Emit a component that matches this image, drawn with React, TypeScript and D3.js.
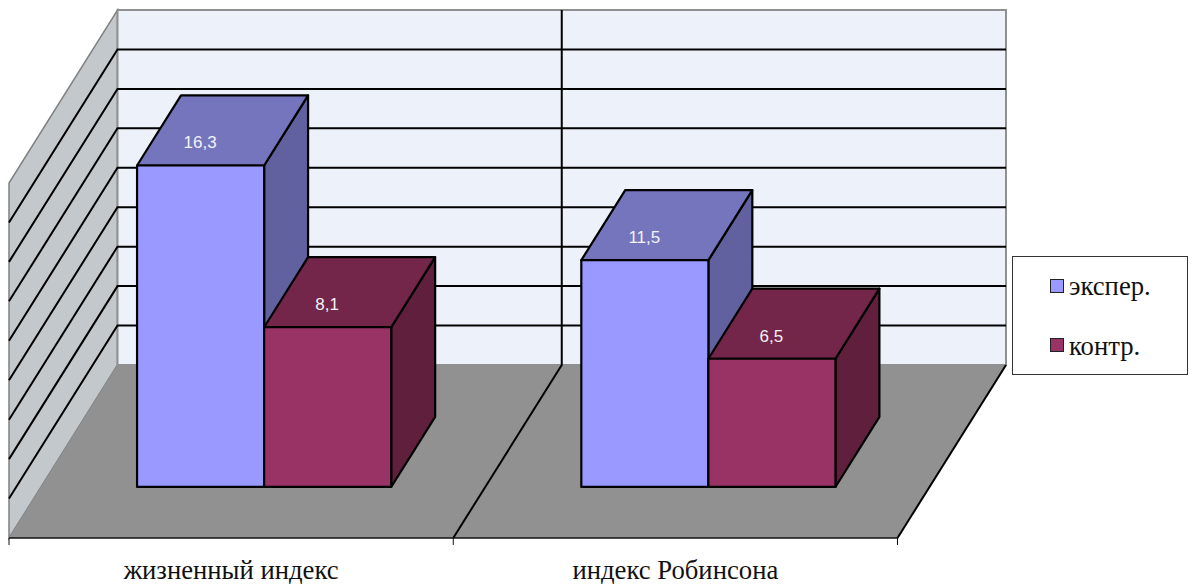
import React from "react";
import * as d3 from "d3";

const categories = ["жизненный индекс", "индекс Робинсона"];
const seriesNames = ["экспер.", "контр."];
const experValues = [16.3, 11.5];
const controlValues = [8.1, 6.5];
const valueTicks = [0, 2, 4, 6, 8, 10, 12, 14, 16, 18];

const frontColors = ["#9999ff", "#993366"];
const topColors = ["#7575bd", "#732649"];
const sideColors = ["#62619f", "#60203d"];

const W = 1195;
const H = 584;
const floorY = 538;
const depthX = 108.5;
const depthY = 173;
const barNear = 0.295;
const barFar = 0.7;

const xGroup = d3.scaleBand<string>().domain(categories).range([9, 897.5]);
const xBar = d3
  .scaleBand<string>()
  .domain(seriesNames)
  .range([1, xGroup.bandwidth() + 1])
  .paddingInner(0)
  .paddingOuter(0.748);
const yHeight = d3.scaleLinear().domain([0, 18]).range([0, 355]);

// Oblique projection: x along the front, v up the value axis, z into the depth.
const project = (x: number, v: number, z: number): [number, number] => [
  x + z * depthX,
  floorY - z * depthY - yHeight(v),
];
const poly = (pts: [number, number][]) => pts.map((p) => p.join(",")).join(" ");

function Bar({ cat, s, value }: { cat: string; s: number; value: number }) {
  const x0 = xGroup(cat)! + xBar(seriesNames[s])!;
  const x1 = x0 + xBar.bandwidth();
  const stroke = { stroke: "#000", strokeWidth: 2.2, strokeLinejoin: "round" as const };
  const [lx, ly] = project((x0 + x1) / 2, value, barNear);
  return (
    <g>
      <polygon
        points={poly([project(x1, 0, barNear), project(x1, 0, barFar), project(x1, value, barFar), project(x1, value, barNear)])}
        fill={sideColors[s]}
        {...stroke}
      />
      <polygon
        points={poly([project(x0, value, barNear), project(x1, value, barNear), project(x1, value, barFar), project(x0, value, barFar)])}
        fill={topColors[s]}
        {...stroke}
      />
      <polygon
        points={poly([project(x0, 0, barNear), project(x1, 0, barNear), project(x1, value, barNear), project(x0, value, barNear)])}
        fill={frontColors[s]}
        {...stroke}
      />
      <text
        x={lx - 0.5}
        y={ly - 17}
        textAnchor="middle"
        fontFamily="'Liberation Sans', Arial, sans-serif"
        fontSize={17}
        fill="#f2f2f8"
      >
        {String(value).replace(".", ",")}
      </text>
    </g>
  );
}

export default function App() {
  const xLeft = xGroup.range()[0];
  const xRight = xGroup.range()[1];
  const boundaries = [xLeft, xLeft + xGroup.step(), xRight];
  const vMax = yHeight.domain()[1];
  return (
    <svg
      width={W}
      height={H}
      viewBox={`0 0 ${W} ${H}`}
      style={{ position: "fixed", left: 0, top: 0, background: "#fff" }}
    >
      {/* left wall */}
      <polygon
        points={poly([project(xLeft, 0, 0), project(xLeft, vMax, 0), project(xLeft, vMax, 1), project(xLeft, 0, 1)])}
        fill="#c3c8cc"
        stroke="#808080"
        strokeWidth={1.5}
      />
      {/* back wall */}
      <polygon
        points={poly([project(xLeft, 0, 1), project(xLeft, vMax, 1), project(xRight, vMax, 1), project(xRight, 0, 1)])}
        fill="#edf2fa"
        stroke="#909090"
        strokeWidth={2}
      />
      {/* floor */}
      <polygon
        points={poly([project(xLeft, 0, 0), project(xRight, 0, 0), project(xRight, 0, 1), project(xLeft, 0, 1)])}
        fill="#919191"
      />
      {/* value gridlines on both walls */}
      {valueTicks.slice(1, -1).map((t) => (
        <g key={t} fill="none" stroke="#000" strokeWidth={2}>
          <polyline points={poly([project(xLeft, t, 0), project(xLeft, t, 1), project(xRight, t, 1)])} />
        </g>
      ))}
      {/* category divider across floor and back wall */}
      <polyline
        points={poly([project(boundaries[1], 0, 0), project(boundaries[1], 0, 1), project(boundaries[1], vMax, 1)])}
        fill="none"
        stroke="#000"
        strokeWidth={2}
      />
      <line
        x1={project(xRight, 0, 0)[0]}
        y1={floorY}
        x2={project(xRight, 0, 1)[0]}
        y2={floorY - depthY}
        stroke="#000"
        strokeWidth={2}
      />
      {/* front axis and ticks */}
      <line x1={xLeft} x2={xRight} y1={floorY} y2={floorY} stroke="#111" strokeWidth={1.6} />
      {boundaries.map((b) => (
        <line key={b} x1={b} x2={b} y1={floorY} y2={floorY + 7} stroke="#111" strokeWidth={1} />
      ))}
      {categories.map((c, i) => (
        <g key={c}>
          <Bar cat={c} s={0} value={experValues[i]} />
          <Bar cat={c} s={1} value={controlValues[i]} />
          <text
            x={xGroup(c)! + xGroup.bandwidth() / 2}
            y={579}
            textAnchor="middle"
            fontFamily="'Liberation Serif', 'Times New Roman', serif"
            fontSize={26.7}
            fill="#111"
          >
            {c}
          </text>
        </g>
      ))}
      {/* legend */}
      <rect x={1012.5} y={256.5} width={175} height={118} fill="#fff" stroke="#333" strokeWidth={1} />
      {seriesNames.map((n, i) => (
        <g key={n}>
          <rect
            x={1050.5}
            y={279.5 + i * 59}
            width={13}
            height={13}
            fill={frontColors[i]}
            stroke="#222"
            strokeWidth={1}
          />
          <text
            x={1069}
            y={295 + i * 60}
            fontFamily="'Liberation Serif', 'Times New Roman', serif"
            fontSize={26.7}
            fill="#111"
          >
            {n}
          </text>
        </g>
      ))}
    </svg>
  );
}
